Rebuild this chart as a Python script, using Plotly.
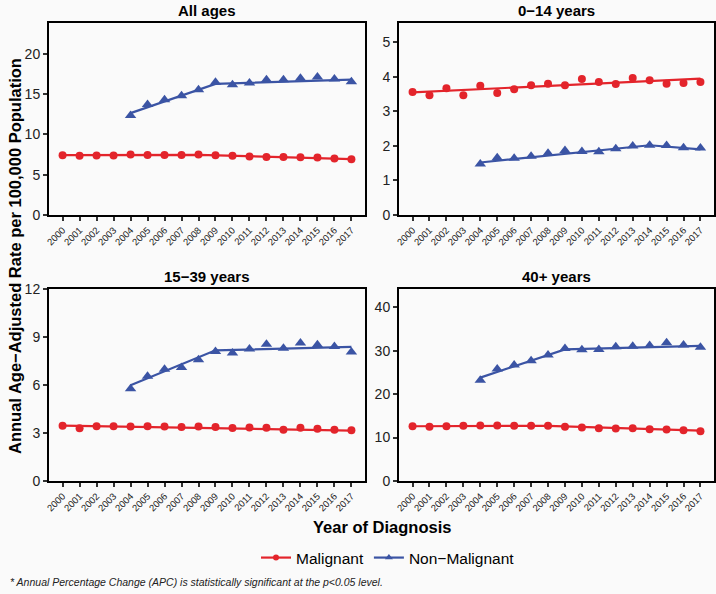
import plotly.graph_objects as go

years = list(range(2000, 2018))
nm_years = list(range(2004, 2018))

panels = ["All ages", "0\u221214 years", "15\u221239 years", "40+ years"]

# observed rates
mal_all = [7.41, 7.33, 7.37, 7.37, 7.49, 7.45, 7.45, 7.45, 7.49, 7.41, 7.33, 7.25, 7.20, 7.20, 7.16, 7.12, 7.00, 6.92]
mal_0_14 = [3.56, 3.47, 3.67, 3.47, 3.74, 3.53, 3.64, 3.76, 3.80, 3.76, 3.94, 3.85, 3.79, 3.97, 3.90, 3.80, 3.82, 3.85]
mal_15_39 = [3.46, 3.29, 3.42, 3.42, 3.40, 3.42, 3.40, 3.38, 3.40, 3.38, 3.31, 3.35, 3.33, 3.21, 3.33, 3.27, 3.21, 3.17]
mal_40 = [12.6, 12.5, 12.6, 12.7, 12.8, 12.8, 12.7, 12.7, 12.7, 12.5, 12.3, 12.15, 12.1, 12.15, 11.9, 11.85, 11.7, 11.46]

nm_all = [12.34, 13.70, 14.29, 14.78, 15.53, 16.44, 16.15, 16.36, 16.77, 16.77, 16.94, 17.10, 16.85, 16.52]
nm_0_14 = [1.48, 1.66, 1.64, 1.70, 1.79, 1.87, 1.84, 1.83, 1.92, 2.00, 2.02, 2.01, 1.95, 1.94]
nm_15_39 = [5.77, 6.54, 6.98, 7.10, 7.58, 8.10, 8.00, 8.25, 8.54, 8.29, 8.63, 8.52, 8.40, 8.06]
nm_40 = [23.2, 25.8, 26.7, 27.7, 29.0, 30.5, 30.2, 30.3, 30.9, 31.0, 31.2, 31.8, 31.3, 30.8]

# joinpoint fitted values (segment ends)
fit_mal_x = [[2000, 2008, 2017], [2000, 2017], [2000, 2017], [2000, 2008, 2017]]
fit_mal_y = [[7.41, 7.46, 6.93], [3.55, 3.95], [3.46, 3.15], [12.6, 12.7, 11.6]]
fit_nm_x = [[2004, 2009, 2017], [2004, 2014, 2017], [2004, 2009, 2017], [2004, 2009, 2017]]
fit_nm_y = [[12.63, 16.25, 16.77], [1.52, 2.02, 1.90], [5.98, 8.17, 8.38], [23.8, 30.3, 31.1]]

mal = [mal_all, mal_0_14, mal_15_39, mal_40]
nm = [nm_all, nm_0_14, nm_15_39, nm_40]

y_tops = [23.8, 5.56, 12.0, 44.2]
y_dticks = [5, 1, 3, 10]

RED = "#E3242B"
BLUE = "#3B54A4"
BG = "#FAFAFA"

W, H = 716, 594
xdoms = [(49, 365), (399, 714)]
ydoms = [(23, 215), (289, 481)]

fig = go.Figure()
annotations = []

for i, name in enumerate(panels):
    r, c = divmod(i, 2)
    ax = "" if i == 0 else str(i + 1)
    xa, ya = "x" + ax, "y" + ax
    x0, x1 = xdoms[c]
    y0, y1 = ydoms[r]

    fig.add_trace(go.Scatter(x=fit_mal_x[i], y=fit_mal_y[i], mode="lines", line=dict(color=RED, width=2.2),
                             xaxis=xa, yaxis=ya, showlegend=False, hoverinfo="skip"))
    fig.add_trace(go.Scatter(x=fit_nm_x[i], y=fit_nm_y[i], mode="lines", line=dict(color=BLUE, width=2.2),
                             xaxis=xa, yaxis=ya, showlegend=False, hoverinfo="skip"))
    fig.add_trace(go.Scatter(x=years, y=mal[i], mode="markers", marker=dict(color=RED, size=8, symbol="circle"),
                             xaxis=xa, yaxis=ya, showlegend=False, name="Malignant"))
    fig.add_trace(go.Scatter(x=nm_years, y=nm[i], mode="markers", marker=dict(color=BLUE, size=10, symbol="triangle-up"),
                             xaxis=xa, yaxis=ya, showlegend=False, name="Non\u2212Malignant"))

    common = dict(showline=True, linecolor="black", linewidth=2, mirror=True, showgrid=False, zeroline=False,
                  ticks="outside", ticklen=4, tickwidth=1.5, tickcolor="#333333", automargin=False)
    fig.update_layout(**{
        "xaxis" + ax: dict(domain=[x0 / W, x1 / W], range=[1999.2, 2017.8], tickvals=years,
                           ticktext=[str(y) for y in years], tickangle=-45,
                           tickfont=dict(size=9.5, color="#222222", family="Liberation Sans"),
                           anchor=ya, **common),
        "yaxis" + ax: dict(domain=[1 - y1 / H, 1 - y0 / H], range=[0, y_tops[i]], dtick=y_dticks[i], tick0=0,
                           tickfont=dict(size=14, color="#222222", family="Liberation Sans"),
                           anchor=xa, **common),
    })
    annotations.append(dict(text="<b>%s</b>" % name, x=(x0 + x1) / 2 / W, y=1 - (y0 - 13) / H,
                            xref="paper", yref="paper", showarrow=False, xanchor="center", yanchor="middle",
                            font=dict(size=15, color="black")))

# legend entries
fig.add_trace(go.Scatter(x=[None], y=[None], mode="lines+markers", name="Malignant",
                         line=dict(color=RED, width=2.2), marker=dict(color=RED, size=6, symbol="circle")))
fig.add_trace(go.Scatter(x=[None], y=[None], mode="lines+markers", name="Non\u2212Malignant",
                         line=dict(color=BLUE, width=2.2), marker=dict(color=BLUE, size=7, symbol="triangle-up")))

annotations.append(dict(text="<b>Annual Age\u2212Adjusted Rate per 100,000 Population</b>", x=15 / W, y=1 - 256 / H,
                        xref="paper", yref="paper", showarrow=False, textangle=-90, xanchor="center", yanchor="middle",
                        font=dict(size=16.5, color="black")))
annotations.append(dict(text="<b>Year of Diagnosis</b>", x=382 / W, y=1 - 527 / H, xref="paper", yref="paper",
                        showarrow=False, xanchor="center", yanchor="middle", font=dict(size=16.5, color="black")))
annotations.append(dict(text="<i>* Annual Percentage Change (APC) is statistically significant at the p<0.05 level.</i>",
                        x=8 / W, y=1 - 582 / H, xref="paper", yref="paper", showarrow=False, xanchor="left",
                        yanchor="middle", font=dict(size=10.5, color="#222222")))

fig.update_layout(
    template="none",
    width=W, height=H,
    margin=dict(l=0, r=0, t=0, b=0, pad=0, autoexpand=False),
    paper_bgcolor=BG, plot_bgcolor=BG,
    font=dict(family="Liberation Sans, Arial, sans-serif", color="black"),
    annotations=annotations,
    legend=dict(orientation="h", x=388 / W, y=1 - 558 / H, xanchor="center", yanchor="middle",
                font=dict(size=15.5, color="black"), bgcolor="rgba(0,0,0,0)", itemwidth=30),
)

fig.write_html("out.html", config={"displayModeBar": False},
               post_script="document.body.style.margin='0';document.body.style.overflow='hidden';")
